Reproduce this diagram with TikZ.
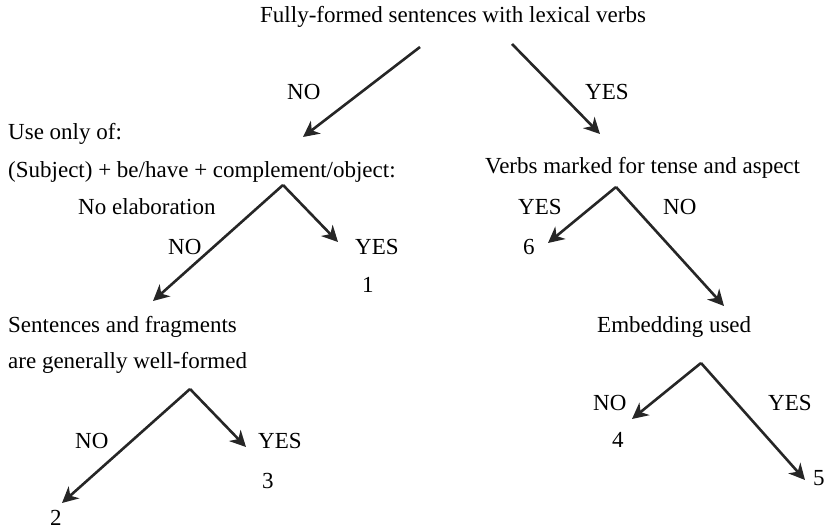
\documentclass[tikz,border=0pt]{standalone}
\usepackage{fontspec}
\setmainfont{Liberation Serif}
\usetikzlibrary{arrows.meta}
\begin{document}
\begin{tikzpicture}[x=1pt,y=-1pt,
  lbl/.style={anchor=base west,inner sep=0pt,font=\fontsize{23}{27}\selectfont,text=black},
  branch/.style={draw=black!85,line width=2.6pt,-{Stealth[length=16pt,width=16pt,inset=5pt]}}]
\useasboundingbox (0,0) rectangle (827,529);
% texts
\node[lbl] (top) at (260,23) {Fully-formed sentences with lexical verbs};
\node[lbl] (no1) at (287,100) {NO};
\node[lbl] (yes1) at (585,100) {YES};
\node[lbl] (use) at (8,140) {Use only of:};
\node[lbl] (subj) at (8,178) {(Subject) + be/have + complement/object:};
\node[lbl] (verbs) at (485,174) {Verbs marked for tense and aspect};
\node[lbl] (noelab) at (78,215) {No elaboration};
\node[lbl] (no2) at (168,255) {NO};
\node[lbl] (yes2) at (355,255) {YES};
\node[lbl] (n1) at (362,293) {1};
\node[lbl] (yes3) at (518,215) {YES};
\node[lbl] (no3) at (663,215) {NO};
\node[lbl] (n6) at (523,255) {6};
\node[lbl] (sent) at (8,332) {Sentences and fragments};
\node[lbl] (gen) at (8,368) {are generally well-formed};
\node[lbl] (emb) at (597,332) {Embedding used};
\node[lbl] (no4) at (75,448) {NO};
\node[lbl] (yes4) at (258,448) {YES};
\node[lbl] (n3) at (262,488) {3};
\node[lbl] (n2) at (50,525) {2};
\node[lbl] (no5) at (593,410) {NO};
\node[lbl] (yes5) at (768,410) {YES};
\node[lbl] (n4) at (612,447) {4};
\node[lbl] (n5) at (813,485) {5};
% connector points
\coordinate (sA) at (420,47);
\coordinate (tA) at (303,137);
\coordinate (sB) at (512,44);
\coordinate (tB) at (600,134);
\coordinate (apL) at (283,185);
\coordinate (tLno) at (153,301);
\coordinate (tLyes) at (338,242);
\coordinate (apR) at (616,187);
\coordinate (tRyes) at (548,243);
\coordinate (tRno) at (724,306);
\coordinate (apBL) at (190,389);
\coordinate (tBLno) at (62,503);
\coordinate (tBLyes) at (246,447);
\coordinate (apBR) at (701,363);
\coordinate (tBRno) at (632,419);
\coordinate (tBRyes) at (805,480);
% connectors
\draw[branch] (sA) -- (tA);
\draw[branch] (sB) -- (tB);
\draw[branch] (apL) -- (tLno);
\draw[branch] (apL) -- (tLyes);
\draw[branch] (apR) -- (tRyes);
\draw[branch] (apR) -- (tRno);
\draw[branch] (apBL) -- (tBLno);
\draw[branch] (apBL) -- (tBLyes);
\draw[branch] (apBR) -- (tBRno);
\draw[branch] (apBR) -- (tBRyes);
\end{tikzpicture}
\end{document}
